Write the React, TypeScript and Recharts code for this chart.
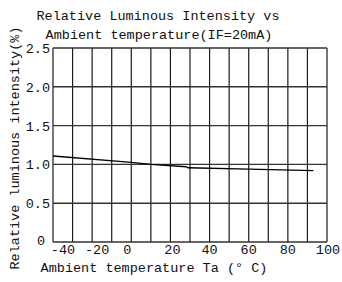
import React from "react";
import {
  LineChart,
  Line,
  XAxis,
  YAxis,
  ReferenceLine,
} from "recharts";

const temperatures = [-40, 0, 10, 28, 29, 60, 93];
const intensity = [1.108, 1.027, 1.0, 0.97, 0.957, 0.94, 0.919];

const xTicks = [-40, -20, 0, 20, 40, 60, 80, 100];
const yTicks = [0, 0.5, 1.0, 1.5, 2.0, 2.5];
const xGrid = [-40, -30, -20, -10, 0, 10, 20, 30, 40, 50, 60, 70, 80, 90, 100];

const FONT = "'Liberation Mono', 'DejaVu Sans Mono', monospace";
const INK = "#111";

const chartData = temperatures.map((t, i) => ({ t, v: intensity[i] }));

// label nudges to follow the scanned datasheet
const xNudge: Record<number, number> = { [-40]: 10, [-20]: 5, 0: -4, 20: 2, 100: 2 };

const XTick = ({ x, y, payload }: any) => (
  <text
    x={Math.min(x + (xNudge[payload.value] || 0), 328)}
    y={y + 4}
    textAnchor="middle"
    fontFamily={FONT}
    fontSize={13.5}
    fill={INK}
  >
    {payload.value}
  </text>
);

const YTick = ({ x, y, payload }: any) => {
  const label = payload.value === 0 ? "0" : payload.value.toFixed(1);
  return (
    <text
      x={payload.value === 0 ? x : x + 5}
      y={payload.value === 0 ? y + 3 : y + 5}
      textAnchor="end"
      fontFamily={FONT}
      fontSize={13.5}
      fill={INK}
    >
      {label}
    </text>
  );
};

export default function App() {
  return (
    <div
      style={{
        position: "absolute",
        left: 0,
        top: 0,
        width: 342,
        height: 282,
        background: "#fff",
        fontFamily: FONT,
        color: INK,
      }}
    >
      <div
        style={{
          position: "absolute",
          left: 0,
          width: 316,
          top: 8,
          textAlign: "center",
          fontSize: 13.5,
          lineHeight: "17px",
        }}
      >
        Relative Luminous Intensity vs
      </div>
      <div
        style={{
          position: "absolute",
          left: 0,
          width: 318,
          top: 27,
          textAlign: "center",
          fontSize: 13.5,
          lineHeight: "17px",
        }}
      >
        Ambient temperature(IF=20mA)
      </div>
      <div
        style={{
          position: "absolute",
          left: 15,
          top: 148,
          transform: "translate(-50%, -50%) rotate(-90deg)",
          whiteSpace: "nowrap",
          fontSize: 13.5,
          lineHeight: "17px",
        }}
      >
        Relative luminous intensity(%)
      </div>
      <div
        style={{
          position: "absolute",
          left: 0,
          width: 308,
          top: 260,
          textAlign: "center",
          fontSize: 13.5,
          lineHeight: "17px",
        }}
      >
        Ambient temperature Ta (° C)
      </div>

      <LineChart
        width={342}
        height={282}
        data={chartData}
        margin={{ top: 48, right: 15, left: 0, bottom: 0 }}
        style={{ position: "absolute", left: 0, top: 0 }}
      >
        <XAxis
          type="number"
          dataKey="t"
          domain={[-40, 100]}
          ticks={xTicks}
          tick={<XTick />}
          tickLine={false}
          axisLine={false}
          height={40}
          interval={0}
        />
        <YAxis
          type="number"
          domain={[0, 2.5]}
          ticks={yTicks}
          tick={<YTick />}
          tickLine={false}
          axisLine={false}
          width={53}
          interval={0}
        />
        {xGrid.map((v) => (
          <ReferenceLine key={`vx${v}`} x={v} stroke="#1a1a1a" strokeWidth={1.2} />
        ))}
        {yTicks.map((v) => (
          <ReferenceLine key={`hy${v}`} y={v} stroke="#333" strokeWidth={1.4} />
        ))}
        <Line
          type="linear"
          dataKey="v"
          stroke="#000"
          strokeWidth={1.3}
          dot={false}
          isAnimationActive={false}
        />
      </LineChart>
    </div>
  );
}
